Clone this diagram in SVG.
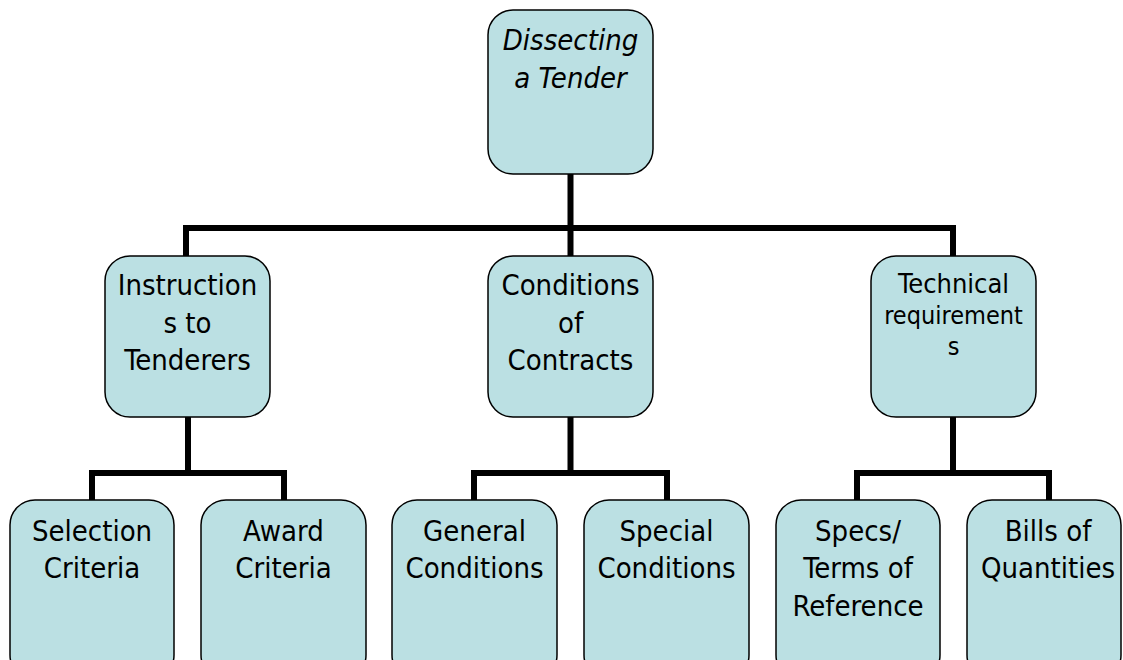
<svg xmlns="http://www.w3.org/2000/svg" width="1123" height="660" viewBox="0 0 1123 660">
<style>
.box{fill:#bbe0e3;stroke:#000;stroke-width:1.5}
.t{font-family:"DejaVu Sans Condensed","DejaVu Sans",sans-serif;font-stretch:condensed;font-size:29px;fill:#000;text-anchor:middle}
.s{font-size:25px}
.it{font-style:italic}
.c{fill:none;stroke:#000;stroke-width:6;stroke-linecap:butt}
</style>
<rect width="1123" height="660" fill="#fff"/>
<g id="connectors">
<path class="c" d="M570.5 174V228M186 258V228H953V258M570.5 228V258"/>
<path class="c" d="M188 417V473M92 502V473H284V502"/>
<path class="c" d="M570.5 417V473M474 502V473H667V502"/>
<path class="c" d="M953 417V473M857 502V473H1049V502"/>
</g>
<g id="n-root"><rect class="box" x="488" y="10" width="165" height="164" rx="25"/>
<text class="t it" x="570.5" y="50">Dissecting</text><text class="t it" x="570.5" y="88">a Tender</text></g>
<g id="n-instr"><rect class="box" x="105" y="256" width="165" height="161" rx="25"/>
<text class="t" x="187.5" y="295">Instruction</text><text class="t" x="187.5" y="333">s to</text><text class="t" x="187.5" y="370">Tenderers</text></g>
<g id="n-cond"><rect class="box" x="488" y="256" width="165" height="161" rx="25"/>
<text class="t" x="570.5" y="295">Conditions</text><text class="t" x="570.5" y="333">of</text><text class="t" x="570.5" y="370">Contracts</text></g>
<g id="n-tech"><rect class="box" x="871" y="256" width="165" height="161" rx="25"/>
<text class="t" x="953.5" y="293" style="font-size:27px">Technical</text><text class="t s" x="953.5" y="324">requirement</text><text class="t s" x="953.5" y="355">s</text></g>
<g id="n-sel"><rect class="box" x="10" y="500" width="164" height="180" rx="25"/>
<text class="t" x="92" y="541">Selection</text><text class="t" x="92" y="578">Criteria</text></g>
<g id="n-award"><rect class="box" x="201" y="500" width="165" height="180" rx="25"/>
<text class="t" x="283.5" y="541">Award</text><text class="t" x="283.5" y="578">Criteria</text></g>
<g id="n-gen"><rect class="box" x="392" y="500" width="165" height="180" rx="25"/>
<text class="t" x="474.5" y="541">General</text><text class="t" x="474.5" y="578">Conditions</text></g>
<g id="n-spec"><rect class="box" x="584" y="500" width="165" height="180" rx="25"/>
<text class="t" x="666.5" y="541">Special</text><text class="t" x="666.5" y="578">Conditions</text></g>
<g id="n-specs"><rect class="box" x="776" y="500" width="164" height="180" rx="25"/>
<text class="t" x="858" y="541">Specs/</text><text class="t" x="858" y="578">Terms of</text><text class="t" x="858" y="616">Reference</text></g>
<g id="n-bills"><rect class="box" x="967" y="500" width="154" height="180" rx="25"/>
<text class="t" x="1048" y="541">Bills of</text><text class="t" x="1048" y="578">Quantities</text></g>
</svg>
